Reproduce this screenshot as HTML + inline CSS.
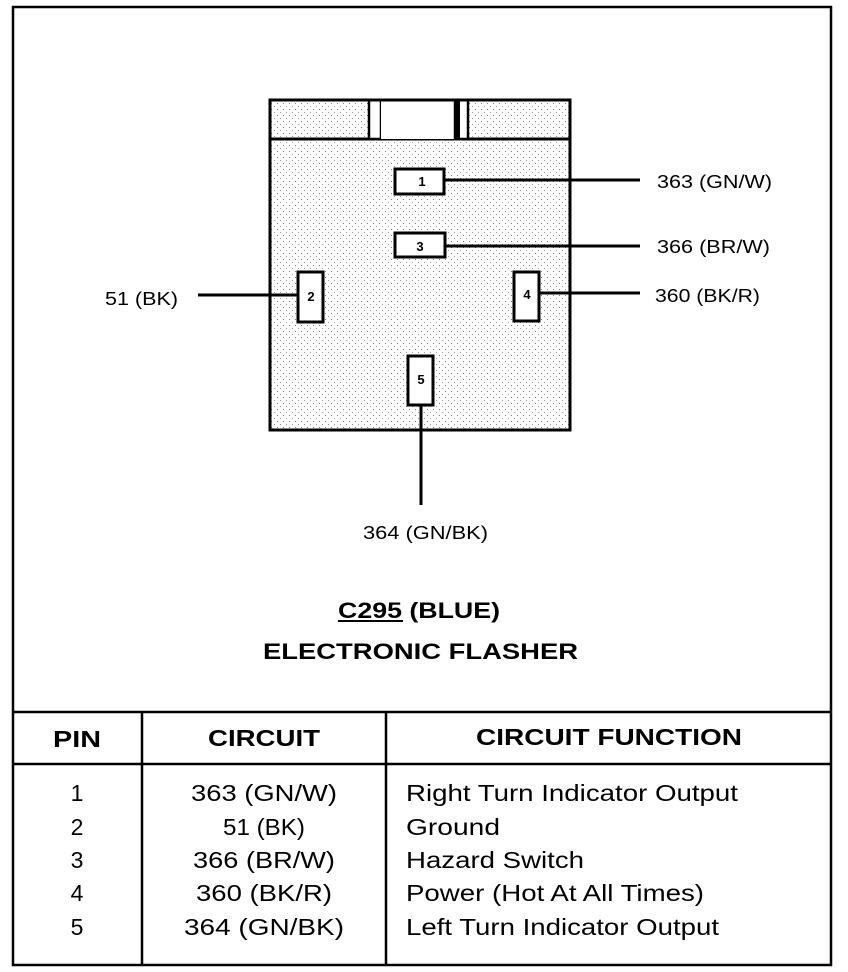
<!DOCTYPE html>
<html><head><style>
html,body{margin:0;padding:0;background:#fff}
svg{display:block}
text{font-family:"Liberation Sans",sans-serif;fill:#000}
</style></head><body>
<svg width="848" height="972" viewBox="0 0 848 972" xmlns="http://www.w3.org/2000/svg">
<defs>
<pattern id="dots" width="6" height="6" patternUnits="userSpaceOnUse">
<rect width="6" height="6" fill="#fff"/>
<rect x="1" y="1" width="1" height="1" fill="#777"/>
<rect x="4" y="4" width="1" height="1" fill="#999"/>
</pattern>
</defs>
<rect x="13" y="7" width="818" height="958" fill="none" stroke="#000" stroke-width="2.5"/>
<rect x="270" y="100" width="300" height="330" fill="url(#dots)" stroke="#000" stroke-width="3"/>
<line x1="270" y1="139" x2="570" y2="139" stroke="#000" stroke-width="3"/>
<rect x="369" y="100" width="12" height="39" fill="#fff" stroke="#000" stroke-width="2.5"/>
<rect x="381" y="100" width="74" height="39" fill="#fff"/>
<rect x="455" y="100" width="13" height="39" fill="#fff" stroke="#000" stroke-width="2.5"/>
<line x1="458" y1="100" x2="458" y2="139" stroke="#000" stroke-width="4"/>
<line x1="270" y1="100" x2="570" y2="100" stroke="#000" stroke-width="3"/>
<g stroke="#000" stroke-width="3">
<line x1="444" y1="180" x2="640" y2="180"/>
<line x1="445" y1="246" x2="640" y2="246"/>
<line x1="198" y1="295" x2="298" y2="295"/>
<line x1="539" y1="293" x2="640" y2="293"/>
<line x1="421" y1="405" x2="421" y2="505"/>
</g>
<g fill="#fff" stroke="#000" stroke-width="3">
<rect x="395" y="169" width="49" height="25"/>
<rect x="395" y="233" width="50" height="24"/>
<rect x="298" y="272" width="25" height="50"/>
<rect x="514" y="272" width="25" height="49"/>
<rect x="408" y="356" width="25" height="49"/>
</g>
<g font-size="13" font-weight="bold" text-anchor="middle">
<text x="422" y="186">1</text>
<text x="420" y="251">3</text>
<text x="311" y="301">2</text>
<text x="527" y="299">4</text>
<text x="421" y="384">5</text>
</g>
<g font-size="18">
<text x="657" y="188" textLength="115" lengthAdjust="spacingAndGlyphs">363 (GN/W)</text>
<text x="657" y="253" textLength="113" lengthAdjust="spacingAndGlyphs">366 (BR/W)</text>
<text x="655" y="302" textLength="105" lengthAdjust="spacingAndGlyphs">360 (BK/R)</text>
<text x="105" y="305" textLength="73" lengthAdjust="spacingAndGlyphs">51 (BK)</text>
<text x="363" y="539" textLength="125" lengthAdjust="spacingAndGlyphs">364 (GN/BK)</text>
</g>
<g font-size="22" font-weight="bold">
<text x="338" y="618" textLength="162" lengthAdjust="spacingAndGlyphs">C295 (BLUE)</text>
<text x="263" y="659" textLength="315" lengthAdjust="spacingAndGlyphs">ELECTRONIC FLASHER</text>
</g>
<line x1="338" y1="621" x2="403" y2="621" stroke="#000" stroke-width="2"/>
<g stroke="#000" stroke-width="2.5">
<line x1="13" y1="712" x2="831" y2="712"/>
<line x1="13" y1="764" x2="831" y2="764"/>
<line x1="142" y1="712" x2="142" y2="965"/>
<line x1="386" y1="712" x2="386" y2="965"/>
</g>
<g font-size="23" font-weight="bold" text-anchor="middle">
<text x="77" y="747" textLength="48" lengthAdjust="spacingAndGlyphs">PIN</text>
<text x="264" y="746" textLength="112" lengthAdjust="spacingAndGlyphs">CIRCUIT</text>
<text x="609" y="745" textLength="266" lengthAdjust="spacingAndGlyphs">CIRCUIT FUNCTION</text>
</g>
<g font-size="23" text-anchor="middle">
<text x="77" y="801">1</text><text x="77" y="835">2</text><text x="77" y="868">3</text><text x="77" y="901">4</text><text x="77" y="935">5</text>
<text x="264" y="801" textLength="146" lengthAdjust="spacingAndGlyphs">363 (GN/W)</text>
<text x="264" y="835" textLength="82" lengthAdjust="spacingAndGlyphs">51 (BK)</text>
<text x="264" y="868" textLength="142" lengthAdjust="spacingAndGlyphs">366 (BR/W)</text>
<text x="264" y="901" textLength="136" lengthAdjust="spacingAndGlyphs">360 (BK/R)</text>
<text x="264" y="935" textLength="160" lengthAdjust="spacingAndGlyphs">364 (GN/BK)</text>
</g>
<g font-size="23">
<text x="406" y="801" textLength="332" lengthAdjust="spacingAndGlyphs">Right Turn Indicator Output</text>
<text x="406" y="835" textLength="94" lengthAdjust="spacingAndGlyphs">Ground</text>
<text x="406" y="868" textLength="178" lengthAdjust="spacingAndGlyphs">Hazard Switch</text>
<text x="406" y="901" textLength="298" lengthAdjust="spacingAndGlyphs">Power (Hot At All Times)</text>
<text x="406" y="935" textLength="313" lengthAdjust="spacingAndGlyphs">Left Turn Indicator Output</text>
</g>
</svg>
</body></html>
